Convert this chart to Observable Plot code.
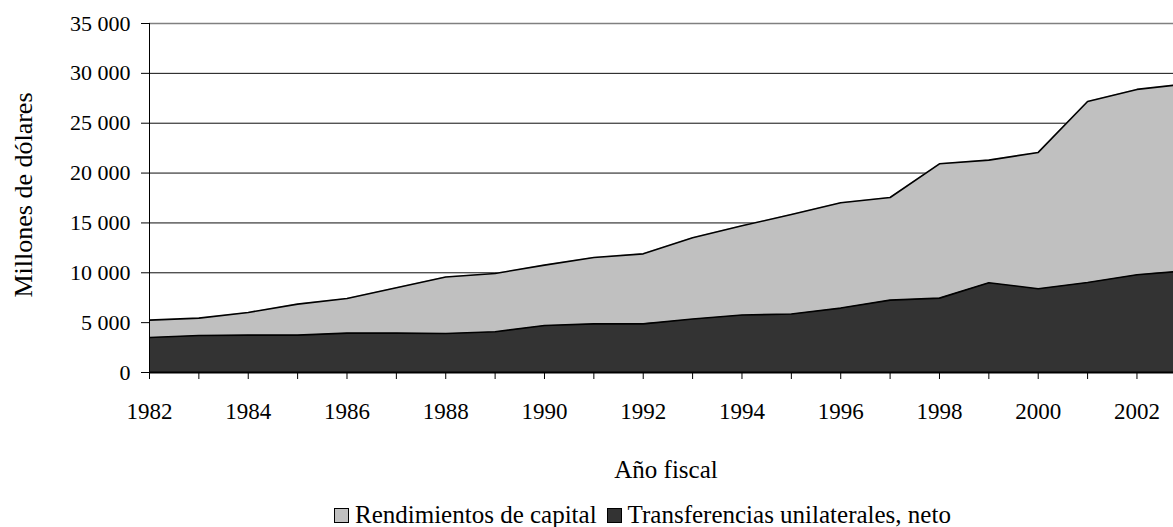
<!DOCTYPE html>
<html><head><meta charset="utf-8">
<script src="https://cdn.jsdelivr.net/npm/d3@7"></script>
<script src="https://cdn.jsdelivr.net/npm/@observablehq/plot@0.6"></script>
<style>
body{margin:0;background:#fff;font-family:"Liberation Serif","Times New Roman",serif;color:#000;}
#wrap{position:relative;width:1173px;height:527px;overflow:hidden;}
#chart{position:absolute;left:0;top:0;}
#ylabel{position:absolute;left:-126px;top:180px;width:300px;height:30px;line-height:30px;font-size:26px;text-align:center;transform:rotate(-90deg);white-space:nowrap;}
#xlabel{position:absolute;left:516px;width:300px;top:457px;font-size:25px;line-height:25px;text-align:center;white-space:nowrap;}
#legend{position:absolute;left:334px;top:502px;font-size:25px;line-height:25px;white-space:nowrap;}
.sw{display:inline-block;width:13px;height:13px;border:1px solid #000;margin-right:6px;vertical-align:baseline;}
.item{margin-right:10px;}
</style>
</head><body>
<div id="wrap"><div id="chart"></div><div id="ylabel"></div><div id="xlabel"></div><div id="legend"></div></div>
<script>
const years = [1982,1983,1984,1985,1986,1987,1988,1989,1990,1991,1992,1993,1994,1995,1996,1997,1998,1999,2000,2001,2002,2003];
const transferencias = [3510,3710,3750,3750,3950,3950,3910,4080,4710,4880,4880,5360,5760,5860,6460,7260,7460,9000,8400,9030,9800,10200];
const rendimientos = [1740,1740,2270,3110,3470,4550,5660,5850,6060,6650,7020,8150,8950,9990,10560,10290,13470,12300,13670,18150,18590,18750];
const seriesNames = ["Transferencias unilaterales, neto","Rendimientos de capital"];
const seriesColors = ["#333333","#c0c0c0"];
const legendOrder = ["Rendimientos de capital","Transferencias unilaterales, neto"];
const yTicks = [0,5000,10000,15000,20000,25000,30000,35000];
const xTickYears = [1982,1983,1984,1985,1986,1987,1988,1989,1990,1991,1992,1993,1994,1995,1996,1997,1998,1999,2000,2001,2002];
const xTitle = "Año fiscal";
const yTitle = "Millones de dólares";

const rows = years.flatMap((yr, i) => [
  {year: yr, series: seriesNames[0], value: transferencias[i]},
  {year: yr, series: seriesNames[1], value: rendimientos[i]}
]);

const fmt = d => d3.format(",")(d).replace(/,/g, "\u00a0");

const chart = Plot.plot({
  width: 1173, height: 430,
  marginLeft: 149, marginRight: 0, marginTop: 23, marginBottom: 58,
  x: {domain: [1982, 2002.74]},
  y: {domain: [0, 35000]},
  color: {domain: seriesNames, range: seriesColors},
  style: {fontFamily: "Liberation Serif, Times New Roman, serif", fontSize: "22px", background: "white", color: "black", overflow: "visible"},
  marks: [
    Plot.gridY(yTicks.filter(d => d > 0 && d < 35000), {stroke: "#000", strokeOpacity: 0.95, strokeWidth: 1}),
    Plot.gridY([35000], {stroke: "#808080", strokeOpacity: 1, strokeWidth: 1.5}),
    Plot.areaY(rows, Plot.stackY({x: "year", y: "value", z: "series", fill: "series", order: seriesNames, clip: true})),
    Plot.lineY(rows, Plot.stackY2({x: "year", y: "value", z: "series", order: seriesNames, stroke: "#000", strokeWidth: 1.6, clip: true})),
    Plot.ruleY([0], {stroke: "#000", strokeWidth: 2}),
    Plot.ruleX([1982], {stroke: "#000", strokeWidth: 1}),
    Plot.axisY({ticks: yTicks, tickFormat: fmt, tickSize: 8, tickPadding: 11, fontSize: 22, label: null}),
    Plot.axisX({ticks: xTickYears, tickFormat: d => d % 2 === 0 ? String(d) : "", tickSize: 7, tickPadding: 23, fontSize: 23, label: null})
  ]
});
document.getElementById("chart").appendChild(chart);
document.getElementById("ylabel").textContent = yTitle;
document.getElementById("xlabel").textContent = xTitle;
const leg = document.getElementById("legend");
legendOrder.forEach(name => {
  const it = document.createElement("span"); it.className = "item";
  const sw = document.createElement("span"); sw.className = "sw";
  sw.style.background = seriesColors[seriesNames.indexOf(name)];
  const tx = document.createElement("span"); tx.textContent = name;
  it.appendChild(sw); it.appendChild(tx); leg.appendChild(it);
});
</script>
</body></html>
